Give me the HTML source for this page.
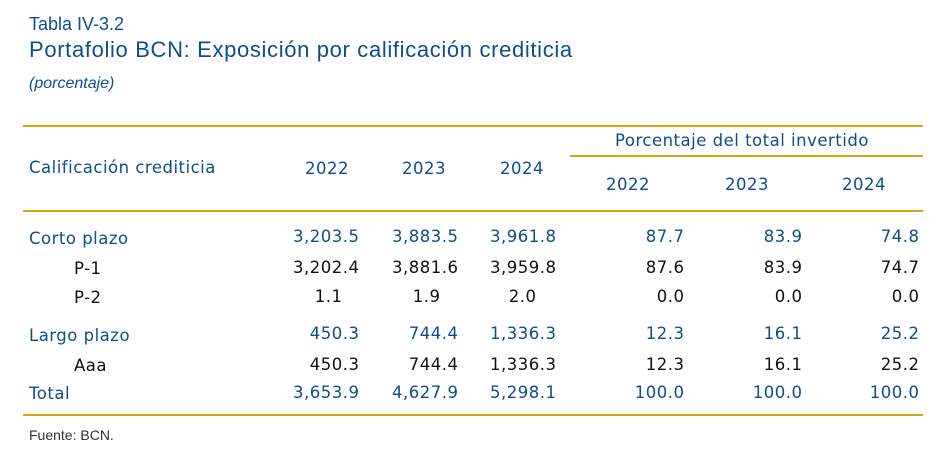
<!DOCTYPE html>
<html><head><meta charset="utf-8"><style>
body{margin:0;width:949px;height:472px;background:#fff;position:relative;overflow:hidden;font-family:"DejaVu Sans","Liberation Sans",sans-serif;}
.t{position:absolute;white-space:nowrap;line-height:1;}
.b{color:#0d4f8b;}
.k{color:#111;}
.r{text-align:right;width:120px;}
.c{text-align:center;width:120px;}
.line{position:absolute;height:2px;background:#d9a20c;}
.f{font-size:16.5px;letter-spacing:0.5px;}
.r.f{letter-spacing:0.5px;margin-left:0.5px;}
</style></head><body>
<div class="t b" style="left:29px;top:15px;font-family:'Liberation Sans',sans-serif;font-size:18px;">Tabla IV-3.2</div>
<div class="t b" style="left:29px;top:39px;font-family:'Liberation Sans',sans-serif;font-size:22px;letter-spacing:0.65px;">Portafolio BCN: Exposición por calificación crediticia</div>
<div class="t b" style="left:29px;top:76px;font-family:'Liberation Sans',sans-serif;font-size:16px;font-style:italic;">(porcentaje)</div>

<div class="line" style="left:23px;top:125px;width:900px;"></div>
<div class="line" style="left:570px;top:155px;width:353px;"></div>
<div class="line" style="left:23px;top:210px;width:900px;"></div>

<div class="t b f" style="left:615px;top:133px;">Porcentaje del total invertido</div>
<div class="t b f" style="left:29px;top:160px;">Calificación crediticia</div>
<div class="t b f c" style="left:267px;top:161px;">2022</div>
<div class="t b f c" style="left:364px;top:161px;">2023</div>
<div class="t b f c" style="left:462px;top:161px;">2024</div>
<div class="t b f c" style="left:568px;top:177px;">2022</div>
<div class="t b f c" style="left:687px;top:177px;">2023</div>
<div class="t b f c" style="left:804px;top:177px;">2024</div>

<div class="t b f" style="left:29px;top:231px;">Corto plazo</div>
<div class="t k f" style="left:74px;top:261px;">P-1</div>
<div class="t k f" style="left:74px;top:290px;">P-2</div>
<div class="t b f" style="left:29px;top:328px;">Largo plazo</div>
<div class="t k f" style="left:74px;top:358px;">Aaa</div>
<div class="t b f" style="left:29px;top:386px;">Total</div>

<div class="t b f r" style="left:239px;top:229px;">3,203.5</div>
<div class="t b f r" style="left:338px;top:229px;">3,883.5</div>
<div class="t b f r" style="left:436px;top:229px;">3,961.8</div>
<div class="t b f r" style="left:564px;top:229px;">87.7</div>
<div class="t b f r" style="left:682px;top:229px;">83.9</div>
<div class="t b f r" style="left:799px;top:229px;">74.8</div>

<div class="t k f r" style="left:239px;top:260px;">3,202.4</div>
<div class="t k f r" style="left:338px;top:260px;">3,881.6</div>
<div class="t k f r" style="left:436px;top:260px;">3,959.8</div>
<div class="t k f r" style="left:564px;top:260px;">87.6</div>
<div class="t k f r" style="left:682px;top:260px;">83.9</div>
<div class="t k f r" style="left:799px;top:260px;">74.7</div>

<div class="t k f r" style="left:222px;top:289px;">1.1</div>
<div class="t k f r" style="left:320px;top:289px;">1.9</div>
<div class="t k f r" style="left:416px;top:289px;">2.0</div>
<div class="t k f r" style="left:564px;top:289px;">0.0</div>
<div class="t k f r" style="left:682px;top:289px;">0.0</div>
<div class="t k f r" style="left:799px;top:289px;">0.0</div>

<div class="t b f r" style="left:239px;top:326px;">450.3</div>
<div class="t b f r" style="left:338px;top:326px;">744.4</div>
<div class="t b f r" style="left:436px;top:326px;">1,336.3</div>
<div class="t b f r" style="left:564px;top:326px;">12.3</div>
<div class="t b f r" style="left:682px;top:326px;">16.1</div>
<div class="t b f r" style="left:799px;top:326px;">25.2</div>

<div class="t k f r" style="left:239px;top:357px;">450.3</div>
<div class="t k f r" style="left:338px;top:357px;">744.4</div>
<div class="t k f r" style="left:436px;top:357px;">1,336.3</div>
<div class="t k f r" style="left:564px;top:357px;">12.3</div>
<div class="t k f r" style="left:682px;top:357px;">16.1</div>
<div class="t k f r" style="left:799px;top:357px;">25.2</div>

<div class="t b f r" style="left:239px;top:385px;">3,653.9</div>
<div class="t b f r" style="left:338px;top:385px;">4,627.9</div>
<div class="t b f r" style="left:436px;top:385px;">5,298.1</div>
<div class="t b f r" style="left:564px;top:385px;">100.0</div>
<div class="t b f r" style="left:682px;top:385px;">100.0</div>
<div class="t b f r" style="left:799px;top:385px;">100.0</div>

<div class="line" style="left:23px;top:414px;width:900px;"></div>
<div class="t k" style="left:29px;top:428px;font-family:'Liberation Sans',sans-serif;font-size:14px;color:#333;">Fuente: BCN.</div>
</body></html>
